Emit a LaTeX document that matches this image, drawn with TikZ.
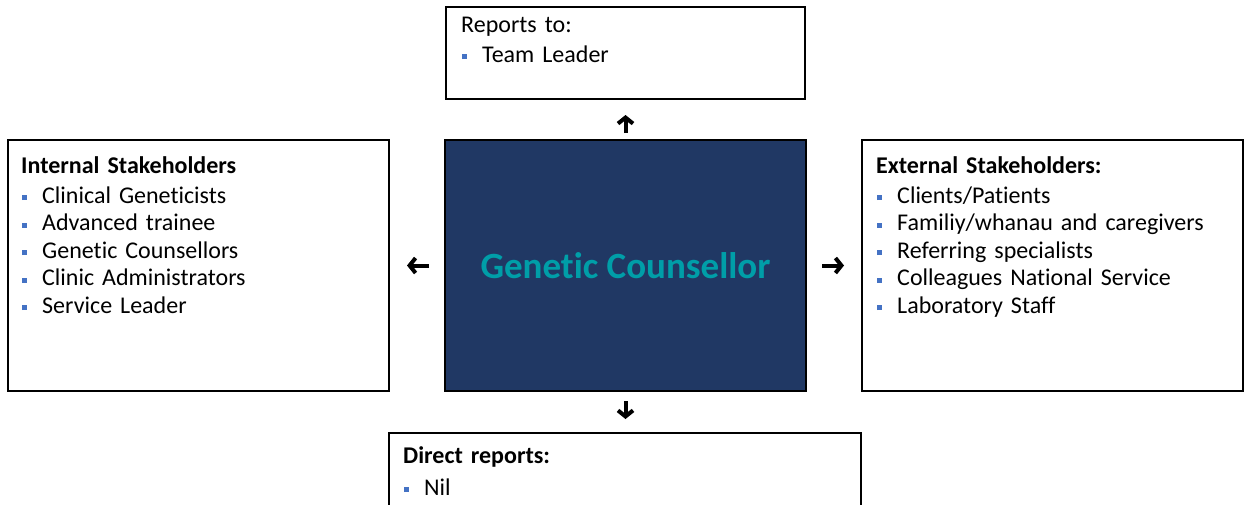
\documentclass[tikz,border=0pt]{standalone}
\usepackage{fontspec}
\setmainfont{Carlito}[Ligatures={NoCommon}]
\usetikzlibrary{arrows.meta}
\definecolor{navy}{HTML}{203864}
\definecolor{tealtxt}{HTML}{009EA8}
\definecolor{bulblue}{HTML}{4472C4}
\newcommand{\bul}{\makebox[21pt][l]{\hspace{1pt}\textcolor{bulblue}{\rule[3pt]{5pt}{5pt}}}}
\begin{document}
\begin{tikzpicture}[x=1pt,y=-1pt,
  boxstyle/.style={draw=black, line width=2pt, inner sep=0pt, anchor=north west},
  txt/.style={inner sep=0pt, anchor=base west, align=left, text width=#1,
    font=\fontsize{24}{27.5}\selectfont},
  arr/.style={line width=4pt, -{Straight Barb[length=6pt,width=15pt]}}]
\useasboundingbox (0,0) rectangle (1244,504);
\clip (0,0) rectangle (1244,504);
% boxes
\node[boxstyle, minimum width=359pt, minimum height=92pt] (top) at (445,6) {};
\node[boxstyle, minimum width=381pt, minimum height=251pt] (int) at (7,139) {};
\node[boxstyle, minimum width=381pt, minimum height=251pt] (ext) at (861,139) {};
\node[boxstyle, minimum width=472pt, minimum height=100pt] (bot) at (388,432) {};
\node[boxstyle, fill=navy, minimum width=361pt, minimum height=251pt,
  text=tealtxt, font=\bfseries\fontsize{37}{40}\selectfont] (cen) at (444,139) {Genetic Counsellor};
% texts
\node[txt=330pt] (topT) at (461,32) {Reports to:\\[2.5pt]\bul Team Leader};
\node[txt=360pt] (intT) at (21,173) {\textbf{Internal Stakeholders}\\[2.5pt]
  \bul Clinical Geneticists\\
  \bul Advanced trainee\\
  \bul Genetic Counsellors\\
  \bul Clinic Administrators\\
  \bul Service Leader};
\node[txt=360pt] (extT) at (876,173) {\textbf{External Stakeholders:}\\[2.5pt]
  \bul Clients/Patients\\
  \bul Familiy/whanau and caregivers\\
  \bul Referring specialists\\
  \bul Colleagues National Service\\
  \bul Laboratory Staff};
\node[txt=440pt] (botT) at (403,463) {\textbf{Direct reports:}\\[4.5pt]\bul Nil};
% arrows
\draw[arr, shorten <=6pt, shorten >=15pt] (cen.north) -- (cen.north |- top.south);
\draw[arr, shorten <=9pt, shorten >=13pt] (cen.south) -- (cen.south |- bot.north);
\draw[arr, shorten <=15pt, shorten >=17pt] (cen.west) -- (int.east);
\draw[arr, shorten <=15pt, shorten >=17pt] (cen.east) -- (ext.west);
\end{tikzpicture}
\end{document}
